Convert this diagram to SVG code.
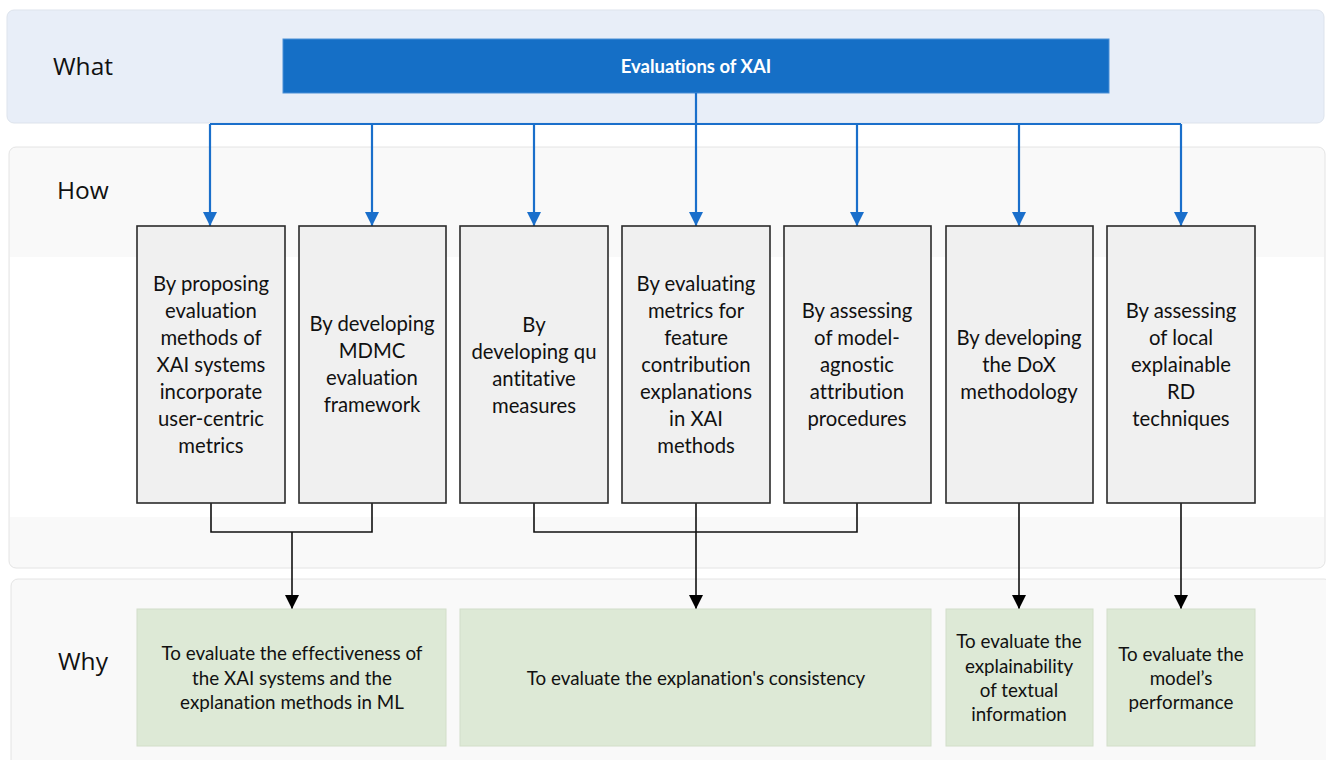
<svg xmlns="http://www.w3.org/2000/svg" width="1326" height="760" viewBox="0 0 1326 760">
  <defs>
    <marker id="arrBlue" viewBox="0 0 14 14" refX="14" refY="7" markerWidth="14" markerHeight="14" markerUnits="userSpaceOnUse" orient="auto">
      <path d="M0,0 L14,7 L0,14 Z" fill="#1a6fcb"/>
    </marker>
    <marker id="arrBlack" viewBox="0 0 14 14" refX="14" refY="7" markerWidth="14" markerHeight="14" markerUnits="userSpaceOnUse" orient="auto">
      <path d="M0,0 L14,7 L0,14 Z" fill="#000"/>
    </marker>
  </defs>
  <style>
    text { font-variant-ligatures: none; }
    .lane-label { font-family: "Open Sans", "Liberation Sans", sans-serif; font-size: 24.5px; fill: #111; }
    .how { fill: #f0f0f0; stroke: #2b2b2b; stroke-width: 1.6; }
    .why { fill: #dde9d6; stroke: #d2dec9; stroke-width: 1; }
    .how-text { font-family: Lato, "Liberation Sans", sans-serif; font-size: 20.3px; fill: #111; text-anchor: middle; }
    .why-text { font-family: Lato, "Liberation Sans", sans-serif; font-size: 18.8px; fill: #111; text-anchor: middle; }
    .blue { fill: none; stroke: #1a6fcb; stroke-width: 2.2; }
    .black { fill: none; stroke: #111; stroke-width: 1.6; }
  </style>

  <rect width="1326" height="760" fill="#ffffff"/>

  <!-- swim lanes -->
  <g id="lane-what">
    <rect x="7" y="10" width="1317" height="113" rx="7" fill="#e8eef8" stroke="#dde3ec" stroke-width="1"/>
    <text class="lane-label" x="53" y="75">What</text>
  </g>
  <g id="lane-how">
    <rect x="9" y="147" width="1316" height="421" rx="7" fill="#f9f9f9" stroke="#e4e4e4" stroke-width="1"/>
    <rect x="10" y="257" width="1314" height="260" fill="#ffffff"/>
    <text class="lane-label" x="57" y="199">How</text>
  </g>
  <g id="lane-why">
    <rect x="11" y="579" width="1320" height="190" rx="7" fill="#f9f9f9" stroke="#e4e4e4" stroke-width="1"/>
    <text class="lane-label" x="58" y="670">Why</text>
  </g>

  <!-- root -->
  <g id="root">
    <rect x="283" y="39" width="826" height="54" fill="#156fc6" stroke="#4a8fd6" stroke-width="1"/>
    <text x="696" y="72.5" font-family="Lato, 'Liberation Sans', sans-serif" font-size="18.5" font-weight="bold" fill="#ffffff" text-anchor="middle">Evaluations of XAI</text>
  </g>

  <!-- connectors -->
  <g id="connectors">
    <path class="blue" d="M696,93 V124 M210,124 H1181"/>
    <path class="blue" marker-end="url(#arrBlue)" d="M210,124 V226"/>
    <path class="blue" marker-end="url(#arrBlue)" d="M372,124 V226"/>
    <path class="blue" marker-end="url(#arrBlue)" d="M534,124 V226"/>
    <path class="blue" marker-end="url(#arrBlue)" d="M696,124 V226"/>
    <path class="blue" marker-end="url(#arrBlue)" d="M857,124 V226"/>
    <path class="blue" marker-end="url(#arrBlue)" d="M1019,124 V226"/>
    <path class="blue" marker-end="url(#arrBlue)" d="M1181,124 V226"/>

    <path class="black" d="M211,503 V532 H372 V503"/>
    <path class="black" marker-end="url(#arrBlack)" d="M292,532 V609"/>
    <path class="black" d="M534,503 V532 H857 V503"/>
    <path class="black" marker-end="url(#arrBlack)" d="M696,503 V609"/>
    <path class="black" marker-end="url(#arrBlack)" d="M1019,503 V609"/>
    <path class="black" marker-end="url(#arrBlack)" d="M1181,503 V609"/>
  </g>

  <!-- how nodes -->
  <g id="how-1">
    <rect class="how" x="137" y="226" width="148" height="277"/>
    <text class="how-text"><tspan x="211" y="291">By proposing</tspan><tspan x="211" y="318">evaluation</tspan><tspan x="211" y="345">methods of</tspan><tspan x="211" y="372">XAI systems</tspan><tspan x="211" y="399">incorporate</tspan><tspan x="211" y="426">user-centric</tspan><tspan x="211" y="453">metrics</tspan></text>
  </g>
  <g id="how-2">
    <rect class="how" x="299" y="226" width="147" height="277"/>
    <text class="how-text"><tspan x="372" y="331">By developing</tspan><tspan x="372" y="358">MDMC</tspan><tspan x="372" y="385">evaluation</tspan><tspan x="372" y="412">framework</tspan></text>
  </g>
  <g id="how-3">
    <rect class="how" x="460" y="226" width="148" height="277"/>
    <text class="how-text"><tspan x="534" y="332">By</tspan><tspan x="534" y="359">developing qu</tspan><tspan x="534" y="386">antitative</tspan><tspan x="534" y="413">measures</tspan></text>
  </g>
  <g id="how-4">
    <rect class="how" x="622" y="226" width="148" height="277"/>
    <text class="how-text"><tspan x="696" y="291">By evaluating</tspan><tspan x="696" y="318">metrics for</tspan><tspan x="696" y="345">feature</tspan><tspan x="696" y="372">contribution</tspan><tspan x="696" y="399">explanations</tspan><tspan x="696" y="426">in XAI</tspan><tspan x="696" y="453">methods</tspan></text>
  </g>
  <g id="how-5">
    <rect class="how" x="784" y="226" width="147" height="277"/>
    <text class="how-text"><tspan x="857" y="318">By assessing</tspan><tspan x="857" y="345">of model-</tspan><tspan x="857" y="372">agnostic</tspan><tspan x="857" y="399">attribution</tspan><tspan x="857" y="426">procedures</tspan></text>
  </g>
  <g id="how-6">
    <rect class="how" x="946" y="226" width="147" height="277"/>
    <text class="how-text"><tspan x="1019" y="345">By developing</tspan><tspan x="1019" y="372">the DoX</tspan><tspan x="1019" y="399">methodology</tspan></text>
  </g>
  <g id="how-7">
    <rect class="how" x="1107" y="226" width="148" height="277"/>
    <text class="how-text"><tspan x="1181" y="318">By assessing</tspan><tspan x="1181" y="345">of local</tspan><tspan x="1181" y="372">explainable</tspan><tspan x="1181" y="399">RD</tspan><tspan x="1181" y="426">techniques</tspan></text>
  </g>

  <!-- why nodes -->
  <g id="why-1">
    <rect class="why" x="137" y="609" width="309" height="137"/>
    <text class="why-text"><tspan x="292" y="660">To evaluate the effectiveness of</tspan><tspan x="292" y="685">the XAI systems and the</tspan><tspan x="292" y="709">explanation methods in ML</tspan></text>
  </g>
  <g id="why-2">
    <rect class="why" x="460" y="609" width="471" height="137"/>
    <text class="why-text" x="696" y="685">To evaluate the explanation's consistency</text>
  </g>
  <g id="why-3">
    <rect class="why" x="946" y="609" width="147" height="137"/>
    <text class="why-text"><tspan x="1019" y="648">To evaluate the</tspan><tspan x="1019" y="673">explainability</tspan><tspan x="1019" y="697">of textual</tspan><tspan x="1019" y="721">information</tspan></text>
  </g>
  <g id="why-4">
    <rect class="why" x="1107" y="609" width="148" height="137"/>
    <text class="why-text"><tspan x="1181" y="661">To evaluate the</tspan><tspan x="1181" y="685">model’s</tspan><tspan x="1181" y="709">performance</tspan></text>
  </g>
</svg>
